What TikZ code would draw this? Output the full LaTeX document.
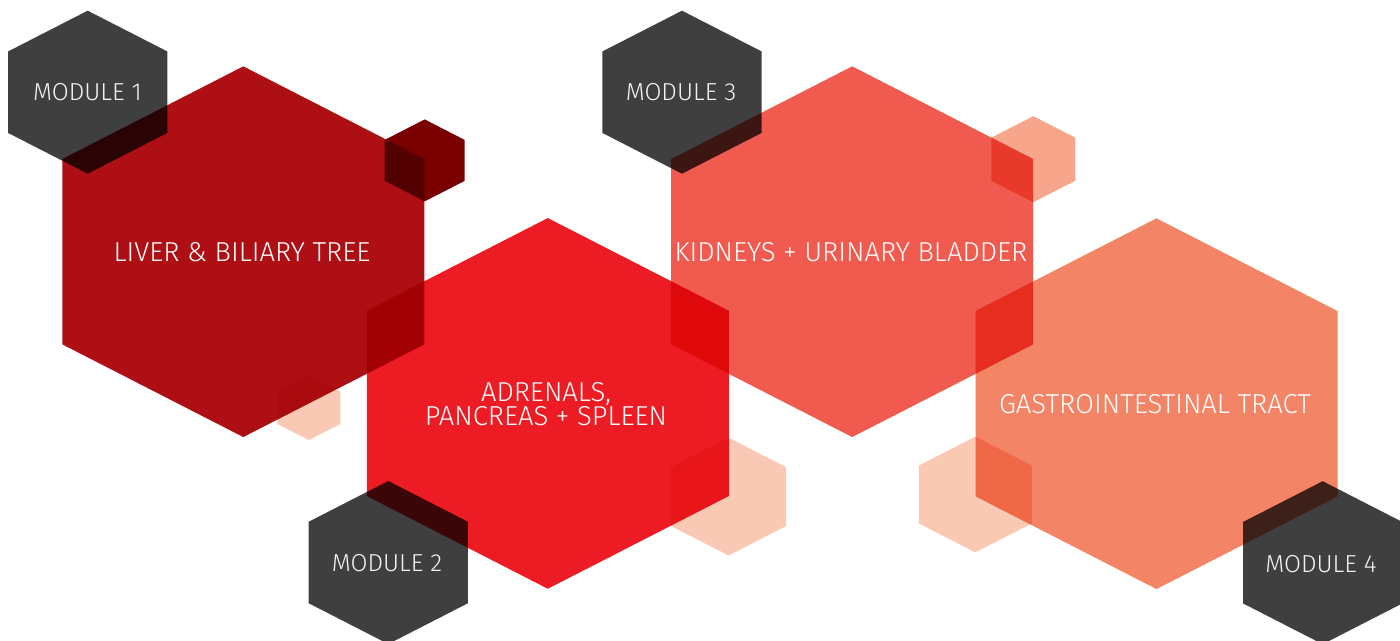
\documentclass[tikz,border=0pt]{standalone}
\usepackage{fontspec}
\IfFontExistsTF{Fira Sans Light}{\setmainfont{Fira Sans Light}}{\setmainfont{Liberation Sans}}
\definecolor{liverred}{HTML}{AE0F15}
\definecolor{adrenred}{HTML}{ED1C24}
\definecolor{kidneyred}{HTML}{F05A4F}
\definecolor{gastrored}{HTML}{F48466}
\definecolor{modgray}{HTML}{3F3F3F}
\definecolor{darkcell}{HTML}{7B0000}
\definecolor{peach}{HTML}{F7A68B}
\definecolor{lightpeach}{HTML}{FAC9B3}
\tikzset{
  hexa/.style={blend mode=multiply},
  lbl/.style={text=white, font=\fontsize{15.6}{13.6}\selectfont, align=center, inner sep=0pt, anchor=base},
  modlbl/.style={lbl, font=\fontsize{14}{13.6}\selectfont, text=white!90!gray},
}
% hexagon: colour, centre x, centre y, half width
\newcommand{\hexcell}[4]{\fill[hexa,#1,shift={(#2,#3)},scale=#4] (0,-1.024) -- (1,-0.512) -- (1,0.512) -- (0,1.024) -- (-1,0.512) -- (-1,-0.512) -- cycle;}

\begin{document}
\begin{tikzpicture}[x=0.02cm,y=-0.02cm]
\fill[white] (0,0) rectangle (1400,641);
\clip (0,0) rectangle (1400,641);
\hexcell{liverred}{243.3}{251.7}{181}%liver
\hexcell{adrenred}{547.8}{403.4}{181}%adrenals
\hexcell{kidneyred}{852.2}{251.7}{181}%kidneys
\hexcell{gastrored}{1156.5}{403.7}{181}%gastro
\hexcell{darkcell}{424.7}{160.4}{40}
\hexcell{peach}{1033.3}{159.2}{42}
\hexcell{lightpeach}{308.8}{407.8}{31.5}
\hexcell{lightpeach}{728.6}{496.6}{57.5}
\hexcell{lightpeach}{975.3}{494.5}{56.5}
\hexcell{modgray}{87.7}{92.2}{79.6}%module 1
\hexcell{modgray}{388.3}{562.5}{79.6}%module 2
\hexcell{modgray}{682}{92.2}{79.6}%module 3
\hexcell{modgray}{1322.7}{562.7}{79.6}%module 4
\node[modlbl] (mod1) at (87.5,101) {MODULE 1};
\node[modlbl] (mod2) at (387,572) {MODULE 2};
\node[modlbl] (mod3) at (681,101) {MODULE 3};
\node[modlbl] (mod4) at (1321,572.3) {MODULE 4};
\node[lbl] (liver) at (242,262) {LIVER \& BILIARY TREE};
\node[lbl] (kidney) at (851,262) {KIDNEYS + URINARY BLADDER};
\node[lbl,anchor=center] (adren) at (546,404.5) {ADRENALS,\\PANCREAS + SPLEEN};
\node[lbl] (gastro) at (1155,413.3) {GASTROINTESTINAL TRACT};
\end{tikzpicture}
\end{document}
